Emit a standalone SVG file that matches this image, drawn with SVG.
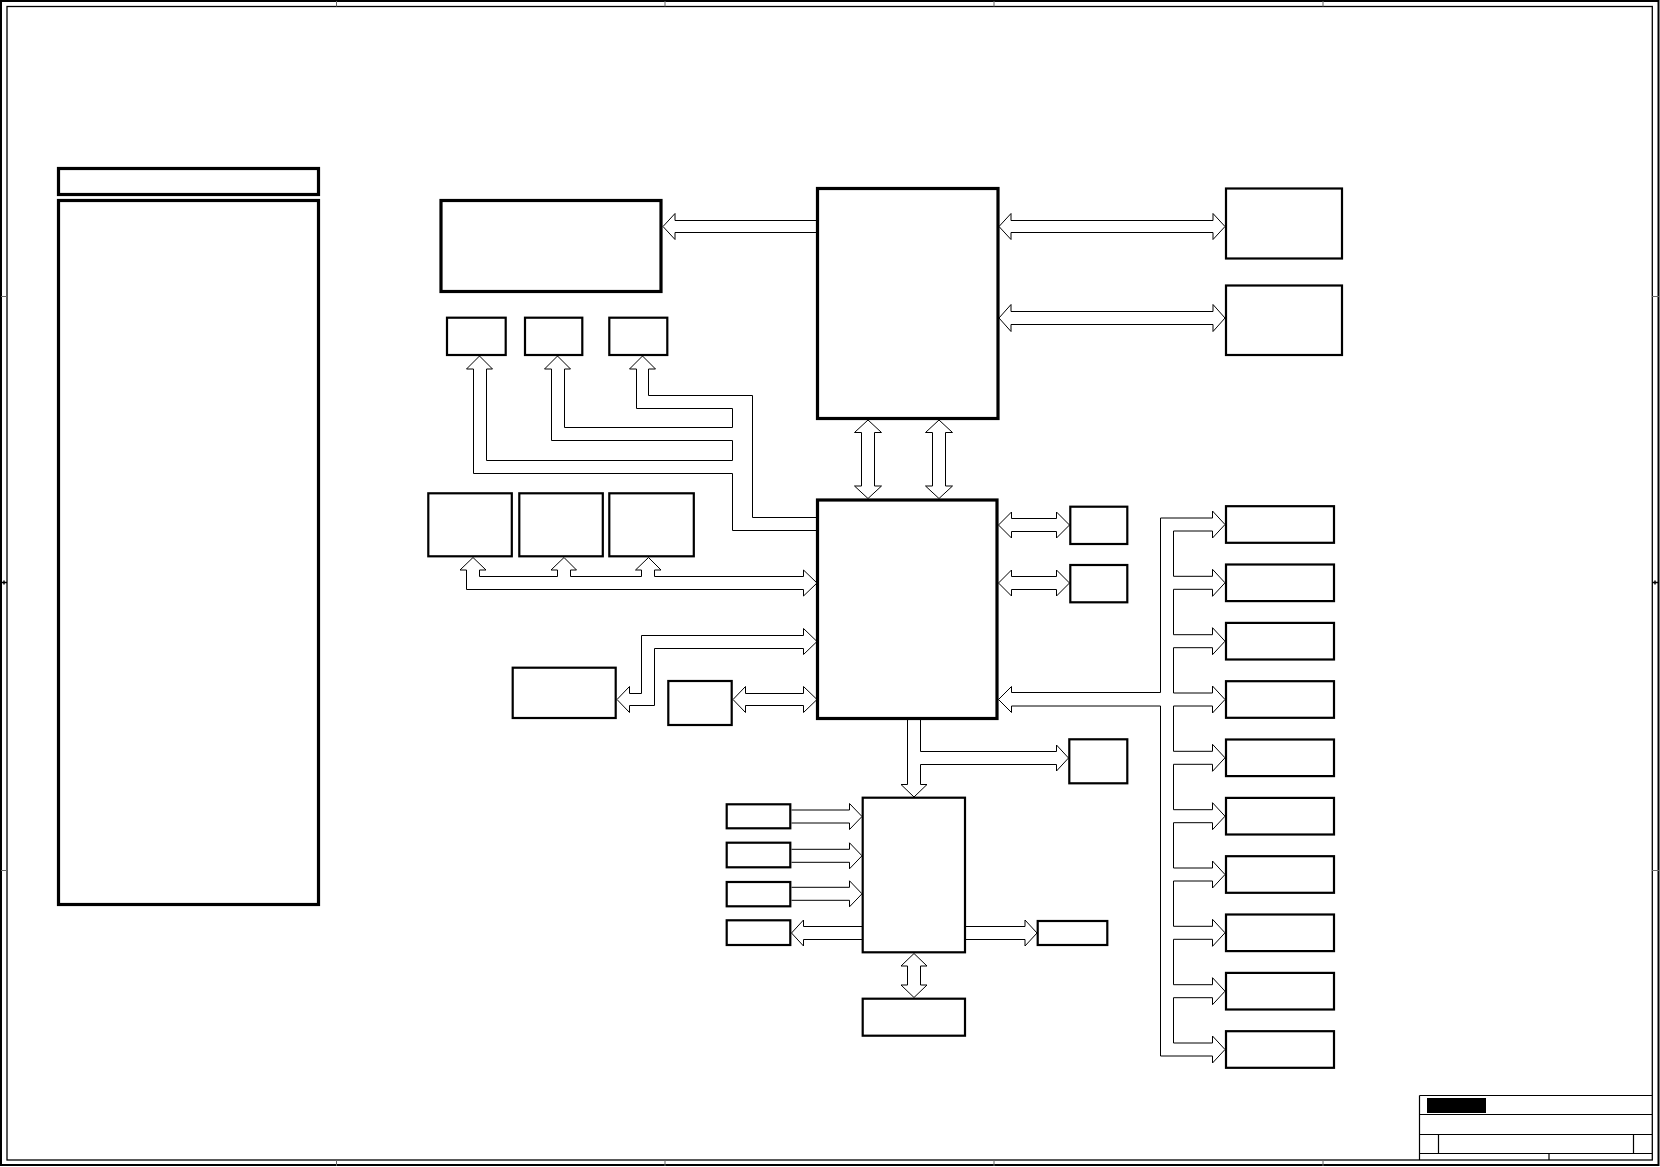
<svg xmlns="http://www.w3.org/2000/svg" width="1660" height="1167" viewBox="0 0 1660 1167">
<style>
.frame{fill:none;stroke:#000;stroke-width:1.3}
.tick{stroke:#666;stroke-width:1}
.thick{fill:#fff;stroke:#000;stroke-width:3.2}
.box{fill:#fff;stroke:#000;stroke-width:2.2}
.bus{fill:#fff;stroke:#000;stroke-width:1;stroke-linejoin:miter}
.tb{stroke:#000;stroke-width:1.2;fill:none}
</style>
<rect x="0" y="0" width="1660" height="1167" fill="#fff"/>
<g id="frame">
<rect x="1" y="1" width="1657.5" height="1164" fill="none" stroke="#000" stroke-width="2"/>
<rect class="frame" x="7" y="6.5" width="1645.3" height="1153.5"/>
<path class="tick" d="M336.5,1V6.5M665,1V6.5M994,1V6.5M1323,1V6.5M336.5,1160V1166M665,1160V1166M994,1160V1166M1323,1160V1166M1,296.5H7M1,870.5H7M1652,296.5H1659M1652,870.5H1659"/>
<path d="M1,582.5H7M4,580.5V584.5M1652,582.5H1659M1655,580.5V584.5" stroke="#000" stroke-width="1.5"/>
</g>
<g id="title-block">
<path class="tb" d="M1419.5,1095.5V1160M1419.5,1095.5H1652M1419.5,1114.5H1652M1419.5,1134.5H1652M1419.5,1153.5H1652M1438.5,1134.5V1153.5M1633.5,1134.5V1153.5M1549,1153.5V1160"/>
<rect x="1427" y="1098" width="59" height="15" fill="#000"/>
</g>
<g id="legend-header"><rect class="thick" x="58.5" y="168.5" width="260" height="26"/></g>
<g id="legend-panel"><rect class="thick" x="58.5" y="200.5" width="260" height="704"/></g>
<g id="connectors">
<path class="bus" d="M816,220.5H675V213.5L663,226.5L675,239.5V232.5H816"/>
<path class="bus" d="M1011,220.5H1213V213.5L1225,226.5L1213,239.5V232.5H1011V239.5L999,226.5L1011,213.5Z"/>
<path class="bus" d="M1011,311.5H1213V304.5L1225,318L1213,331.5V324.5H1011V331.5L999,318L1011,304.5Z"/>
<path class="bus" style="fill:none" d="M816,530.5H732.5V473.5H473.5V369H466.5L479.5,356L492.5,369H486.5V460.5H732.5V440.5H551.5V369H544.5L557.5,356L570.5,369H564.5V427.5H732.5V408.5H636.5V369H629.5L642.5,356L655.5,369H648.5V395.5H752.5V517.5H816"/>
<path class="bus" d="M861.5,432.5V486H854.5L868,498.5L881.5,486H874.5V432.5H881.5L868,420L854.5,432.5Z"/>
<path class="bus" d="M932.5,432.5V486H925.5L939,498.5L952.5,486H945.5V432.5H952.5L939,420L925.5,432.5Z"/>
<path class="bus" style="fill:none" d="M803.5,576.5H654.5V570H661L648.5,557.5L635.5,570H641.5V576.5H570.5V570H576.5L564,557.5L551,570H557.5V576.5H479.5V570H486L473,557.5L460,570H466.5V589.5H803.5V596L817,583L803.5,570V576.5"/>
<path class="bus" style="fill:none" d="M803.5,635.5H641.5V693.5H629.5V686.5L617,699.5L629.5,712.5V705.5H654.5V648.5H803.5V654.5L817,641.5L803.5,628.5V635.5"/>
<path class="bus" d="M745.5,693.5H803.5V686.5L817,699.5L803.5,712.5V705.5H745.5V712.5L733,699.5L745.5,686.5Z"/>
<path class="bus" d="M1011.5,518.5H1056.5V512L1069.5,525L1056.5,538V531.5H1011.5V538L998.5,525L1011.5,512Z"/>
<path class="bus" d="M1011.5,576.5H1056.5V570L1069.5,583L1056.5,596V589.5H1011.5V596L998.5,583L1011.5,570Z"/>
<path class="bus" style="fill:none" d="M1011.5,692.5H1160.5V518H1212.5V511L1225,524.5L1212.5,538V531H1173.5V576.3H1212.5V569.3L1225,582.8L1212.5,596.3V589.3H1173.5V634.7H1212.5V627.7L1225,641.2L1212.5,654.7V647.7H1173.5V693H1212.5V686L1225,699.5L1212.5,713V706H1173.5V751.3H1212.5V744.3L1225,757.8L1212.5,771.3V764.3H1173.5V809.7H1212.5V802.7L1225,816.2L1212.5,829.7V822.7H1173.5V868H1212.5V861L1225,874.5L1212.5,888V881H1173.5V926.3H1212.5V919.3L1225,932.8L1212.5,946.3V939.3H1173.5V984.7H1212.5V977.7L1225,991.2L1212.5,1004.7V997.7H1173.5V1043H1212.5V1036L1225,1049.5L1212.5,1063V1056H1160.5V706H1011.5V712.5L998.5,699.5L1011.5,686.5V692.5"/>
<path class="bus" style="fill:none" d="M907.5,720V784.5H901L914,797L927,784.5H920.5V764.5H1056.5V771L1068.5,758L1056.5,745V751.5H920.5V720"/>
<path class="bus" d="M791.5,810H849.5V803.5L862,816.5L849.5,829.5V823H791.5"/>
<path class="bus" d="M791.5,849.3H849.5V842.8L862,855.8L849.5,868.8V862.3H791.5"/>
<path class="bus" d="M791.5,887.3H849.5V880.8L862,893.8L849.5,906.8V900.3H791.5"/>
<path class="bus" d="M862,926.5H803.5V920L791.5,933L803.5,946V939.5H862"/>
<path class="bus" d="M966,926.5H1025V920L1037,933L1025,946V939.5H966"/>
<path class="bus" d="M907.5,966V985H901L914,997.5L927,985H920.5V966H927L914,953.5L901,966Z"/>
</g>
<g id="node-a"><rect class="thick" x="441" y="200.5" width="220" height="91"/></g>
<g id="node-cpu"><rect class="thick" x="817.5" y="188.5" width="180.5" height="230"/></g>
<g id="node-r1"><rect class="box" x="1226" y="188.5" width="116" height="70"/></g>
<g id="node-r2"><rect class="box" x="1226" y="285.5" width="116" height="69.5"/></g>
<g id="node-s1"><rect class="box" x="447" y="317.7" width="58.7" height="37.3"/></g>
<g id="node-s2"><rect class="box" x="525" y="317.7" width="57.3" height="37.3"/></g>
<g id="node-s3"><rect class="box" x="609.3" y="317.7" width="58" height="37.3"/></g>
<g id="node-l1"><rect class="box" x="428.3" y="493.3" width="83.5" height="63"/></g>
<g id="node-l2"><rect class="box" x="519.3" y="493.3" width="83.5" height="63"/></g>
<g id="node-l3"><rect class="box" x="609.3" y="493.3" width="84.5" height="63"/></g>
<g id="node-cpu2"><rect class="thick" x="817.5" y="500" width="179.5" height="218.5"/></g>
<g id="node-b"><rect class="box" x="512.7" y="667.7" width="103" height="50.3"/></g>
<g id="node-c"><rect class="box" x="668.3" y="681" width="63.4" height="44"/></g>
<g id="node-d1"><rect class="box" x="1070.3" y="506.7" width="57" height="37.3"/></g>
<g id="node-d2"><rect class="box" x="1070.3" y="565" width="57" height="37.3"/></g>
<g id="node-g"><rect class="box" x="1069.3" y="739.3" width="58" height="44"/></g>
<g id="node-f"><rect class="box" x="862.7" y="797.7" width="102.3" height="154.6"/></g>
<g id="node-h1"><rect class="box" x="726.7" y="804.3" width="63.6" height="24"/></g>
<g id="node-h2"><rect class="box" x="726.7" y="842.7" width="63.6" height="24.6"/></g>
<g id="node-h3"><rect class="box" x="726.7" y="882" width="63.6" height="24.3"/></g>
<g id="node-h4"><rect class="box" x="726.7" y="920.3" width="63.6" height="24.7"/></g>
<g id="node-i"><rect class="box" x="1037.7" y="921" width="69.6" height="24"/></g>
<g id="node-j"><rect class="box" x="862.7" y="998.7" width="102.3" height="37"/></g>
<g id="node-e1"><rect class="box" x="1226" y="506.2" width="108" height="36.6"/></g>
<g id="node-e2"><rect class="box" x="1226" y="564.5" width="108" height="36.6"/></g>
<g id="node-e3"><rect class="box" x="1226" y="622.9" width="108" height="36.6"/></g>
<g id="node-e4"><rect class="box" x="1226" y="681.2" width="108" height="36.6"/></g>
<g id="node-e5"><rect class="box" x="1226" y="739.5" width="108" height="36.6"/></g>
<g id="node-e6"><rect class="box" x="1226" y="797.9" width="108" height="36.6"/></g>
<g id="node-e7"><rect class="box" x="1226" y="856.2" width="108" height="36.6"/></g>
<g id="node-e8"><rect class="box" x="1226" y="914.5" width="108" height="36.6"/></g>
<g id="node-e9"><rect class="box" x="1226" y="972.9" width="108" height="36.6"/></g>
<g id="node-e10"><rect class="box" x="1226" y="1031.2" width="108" height="36.6"/></g>
</svg>
